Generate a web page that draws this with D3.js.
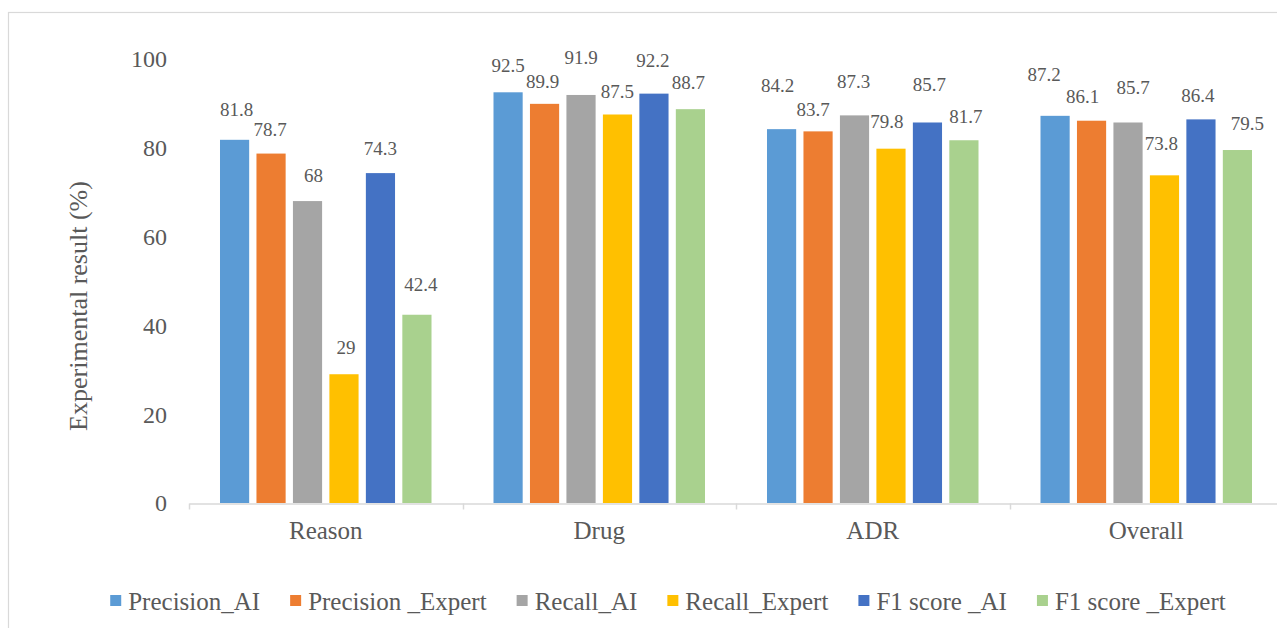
<!DOCTYPE html>
<html>
<head>
<meta charset="utf-8">
<script src="https://cdn.jsdelivr.net/npm/d3@7"></script>
<style>
  html, body { margin: 0; padding: 0; background: #fff; }
  svg { display: block; }
  text { font-family: "Liberation Serif", "Times New Roman", serif; fill: #595959; }
</style>
</head>
<body>
<svg id="chart" width="1277" height="628"></svg>
<script>
// Experimental results per entity type and evaluation
const categories = ["Reason", "Drug", "ADR", "Overall"];
const seriesNames = ["Precision_AI", "Precision _Expert", "Recall_AI", "Recall_Expert", "F1 score _AI", "F1 score _Expert"];
const precisionAI     = [81.8, 92.5, 84.2, 87.2];
const precisionExpert = [78.7, 89.9, 83.7, 86.1];
const recallAI        = [68,   91.9, 87.3, 85.7];
const recallExpert    = [29,   87.5, 79.8, 73.8];
const f1AI            = [74.3, 92.2, 85.7, 86.4];
const f1Expert        = [42.4, 88.7, 81.7, 79.5];
const yTicks = [0, 20, 40, 60, 80, 100];

const seriesValues = [precisionAI, precisionExpert, recallAI, recallExpert, f1AI, f1Expert];
const colors = ["#5B9BD5", "#ED7D31", "#A5A5A5", "#FFC000", "#4472C4", "#A9D18E"];

// hand-placed label nudges [dx, lift above bar top], one row per category
const labelNudge = [
  [[2, 30], [-1, 24], [6, 26], [2, 27], [0, 25], [4, 30]],
  [[0, 27], [-2, 22], [0, 38], [0, 23], [-1, 33], [-2, 27]],
  [[-4, 44], [-5, 22], [-1, 34], [-4, 27], [2, 38], [2, 24]],
  [[-11, 41], [-9, 24], [5, 35], [-3, 32], [-3, 24], [10, 27]]
];

const svg = d3.select("#chart");

// outer frame
svg.append("rect")
  .attr("x", 8.5).attr("y", 12.5)
  .attr("width", 1300).attr("height", 640)
  .attr("fill", "none").attr("stroke", "#D9D9D9").attr("stroke-width", 1.2);

const plot = { left: 189, right: 1283, top: 59, bottom: 503 };

const x0 = d3.scaleBand().domain(categories).range([plot.left, plot.right]).paddingInner(0).paddingOuter(0);
const x1 = d3.scaleBand().domain(d3.range(seriesNames.length)).range([0, x0.bandwidth()])
  .paddingOuter(0.85).paddingInner(0.2);
const y = d3.scaleLinear().domain([0, 100]).range([plot.bottom, plot.top]);

// y tick labels (no axis line, no gridlines)
svg.append("g").selectAll("text").data(yTicks).join("text")
  .attr("x", 167).attr("y", d => y(d))
  .attr("dy", "0.35em")
  .attr("text-anchor", "end")
  .style("font-size", "24px")
  .text(d => d);

// bars
const groups = svg.append("g").selectAll("g").data(categories).join("g")
  .attr("transform", d => `translate(${x0(d)},0)`);

groups.selectAll("rect")
  .data((c, ci) => seriesValues.map((vals, si) => ({ si, ci, v: vals[ci] })))
  .join("rect")
  .attr("x", d => x1(d.si))
  .attr("width", x1.bandwidth())
  .attr("y", d => y(d.v))
  .attr("height", d => y(0) - y(d.v))
  .attr("fill", d => colors[d.si]);

// value labels
groups.selectAll("text.val")
  .data((c, ci) => seriesValues.map((vals, si) => ({ si, ci, v: vals[ci] })))
  .join("text")
  .attr("class", "val")
  .attr("x", d => x1(d.si) + x1.bandwidth() / 2 + labelNudge[d.ci][d.si][0])
  .attr("y", d => y(d.v) - labelNudge[d.ci][d.si][1])
  .attr("dy", "0.35em")
  .attr("text-anchor", "middle")
  .style("font-size", "19px")
  .text(d => d.v);

// x axis baseline with category dividers
const xAxis = d3.axisBottom(x0).tickSize(0).tickPadding(18);
const gx = svg.append("g").attr("transform", `translate(0,${plot.bottom + 0.5})`).call(xAxis);
gx.select(".domain").attr("stroke", "#D9D9D9").attr("stroke-width", 1.5);
gx.selectAll(".tick text")
  .style("font-family", "Liberation Serif, serif")
  .style("font-size", "25px")
  .attr("fill", "#595959");
const boundaries = categories.map(c => x0(c)).concat([plot.right]);
gx.append("g").selectAll("line").data(boundaries).join("line")
  .attr("x1", d => Math.round(d) + 0.5).attr("x2", d => Math.round(d) + 0.5)
  .attr("y1", 0).attr("y2", 6)
  .attr("stroke", "#D9D9D9").attr("stroke-width", 1.5);

// y axis title
svg.append("text")
  .attr("transform", "translate(78,306) rotate(-90)")
  .attr("text-anchor", "middle")
  .attr("dy", "0.35em")
  .style("font-size", "26px")
  .text("Experimental result (%)");

// legend
const legend = svg.append("g").attr("transform", "translate(0,601)");
const items = legend.selectAll("g").data(seriesNames).join("g");
items.append("rect").attr("width", 11).attr("height", 11).attr("y", -6)
  .attr("fill", (d, i) => colors[i]);
items.append("text").attr("x", 18).attr("dy", "0.35em")
  .style("font-size", "25px").text(d => d);
const gap = 30;
let cursor = 0;
const positions = [];
items.each(function () {
  positions.push(cursor);
  cursor += this.getBBox().width + gap;
});
const totalW = cursor - gap;
const startX = 668 - totalW / 2;
items.attr("transform", (d, i) => `translate(${startX + positions[i]},0)`);
</script>
</body>
</html>
